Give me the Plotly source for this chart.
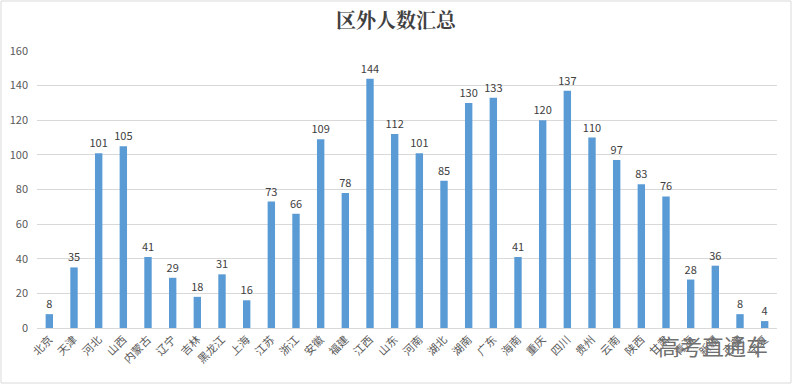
import plotly.graph_objects as go

categories = ["北京", "天津", "河北", "山西", "内蒙古", "辽宁", "吉林", "黑龙江", "上海", "江苏",
              "浙江", "安徽", "福建", "江西", "山东", "河南", "湖北", "湖南", "广东", "海南",
              "重庆", "四川", "贵州", "云南", "陕西", "甘肃", "青海", "新疆", "西藏", "宁夏"]
values = [8, 35, 101, 105, 41, 29, 18, 31, 16, 73,
          66, 109, 78, 144, 112, 101, 85, 130, 133, 41,
          120, 137, 110, 97, 83, 76, 28, 36, 8, 4]
y_ticks = [0, 20, 40, 60, 80, 100, 120, 140, 160]

font_cjk = "Noto Sans CJK SC, Microsoft YaHei, sans-serif"

fig = go.Figure()
fig.add_trace(go.Bar(
    x=categories, y=values,
    marker=dict(color="#5B9BD5", line=dict(width=0)),
    width=0.3,
    text=[str(v) for v in values], textposition="outside",
    textfont=dict(size=11, color="#404040", family=font_cjk),
    constraintext="none",
    cliponaxis=False,
))

fig.update_layout(
    width=792, height=384,
    margin=dict(l=37, r=15, t=51, b=56, autoexpand=False),
    paper_bgcolor="white", plot_bgcolor="white",
    title=dict(text="<b>区外人数汇总</b>", x=0.5, xanchor="center", y=0.945, yanchor="middle",
               font=dict(size=20, color="#404040", family="Noto Serif CJK SC, Noto Sans CJK SC, serif")),
    showlegend=False,
    uniformtext=dict(minsize=11, mode="show"),
    xaxis=dict(type="category", range=[-0.5, len(categories) - 0.5], automargin=False,
               tickangle=-45, tickfont=dict(size=11, color="#595959", family=font_cjk),
               showline=True, linecolor="#D9D9D9", linewidth=1, ticks="", showgrid=False),
    yaxis=dict(range=[0, 160], tickvals=y_ticks, showgrid=True, gridcolor="#D9D9D9", gridwidth=1,
               automargin=False,
               tickfont=dict(size=11, color="#595959", family=font_cjk), zeroline=False,
               showline=False, ticks="", ticklabelstandoff=8),
    shapes=[dict(type="rect", xref="paper", yref="paper", x0=-36/740, x1=1+14/740,
                 y0=-55/277, y1=1+50/277, line=dict(color="#D9D9D9", width=1))],
    annotations=[dict(text="高考直通车", xref="paper", yref="paper", x=0.99, y=-0.06,
                      xanchor="right", yanchor="middle", showarrow=False,
                      font=dict(size=22, color="#707070", family=font_cjk))],
)

fig.write_html("out.html", config={"displayModeBar": False},
               post_script="document.body.style.margin='0';document.body.style.overflow='hidden';")
